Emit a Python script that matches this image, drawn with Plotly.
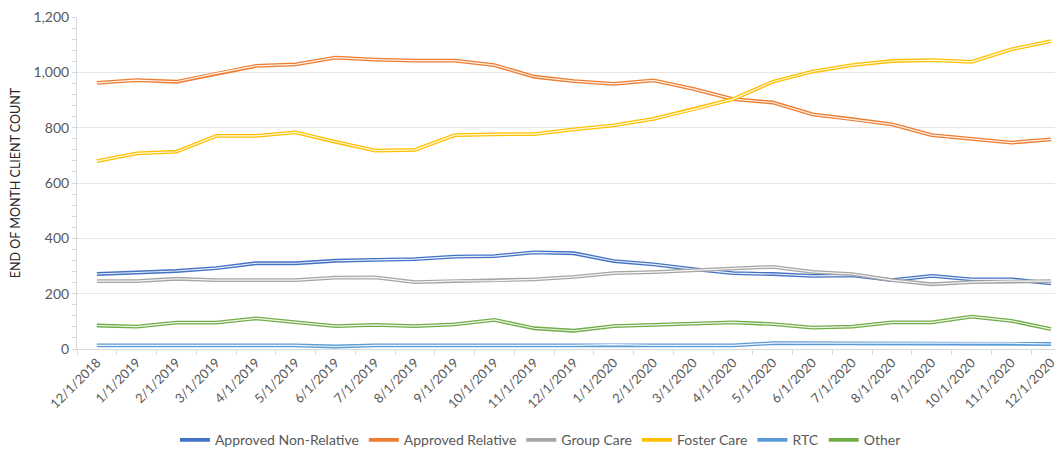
import plotly.graph_objects as go

# ---- data: end-of-month client counts, Dec 2018 .. Dec 2020 ----------------
months = ["12/1/2018", "1/1/2019", "2/1/2019", "3/1/2019", "4/1/2019", "5/1/2019",
          "6/1/2019", "7/1/2019", "8/1/2019", "9/1/2019", "10/1/2019", "11/1/2019",
          "12/1/2019", "1/1/2020", "2/1/2020", "3/1/2020", "4/1/2020", "5/1/2020",
          "6/1/2020", "7/1/2020", "8/1/2020", "9/1/2020", "10/1/2020", "11/1/2020",
          "12/1/2020"]

approved_non_relative = [271, 276, 282, 292, 310, 310, 319, 322, 325, 334, 336, 349,
                         346, 318, 306, 289, 274, 271, 264, 266, 249, 264, 252, 252, 237]
approved_relative = [962, 972, 966, 996, 1023, 1029, 1053, 1046, 1042, 1042, 1026, 984,
                     968, 958, 971, 940, 903, 891, 848, 831, 812, 773, 759, 746, 758]
group_care = [245, 245, 254, 249, 249, 249, 258, 259, 242, 246, 247, 252,
              261, 274, 278, 284, 290, 297, 279, 271, 249, 234, 242, 245, 245]
foster_care = [679, 707, 713, 770, 770, 783, 749, 717, 720, 773, 776, 777,
               794, 808, 832, 866, 903, 966, 1003, 1026, 1041, 1044, 1038, 1083, 1113]
rtc = [13, 13, 13, 13, 13, 13, 9, 13, 13, 13, 13, 13,
       13, 16, 13, 13, 13, 21, 21, 21, 21, 21, 21, 21, 18]
other = [85, 81, 95, 95, 111, 98, 83, 87, 83, 89, 105, 75,
         66, 83, 87, 91, 96, 90, 77, 81, 96, 96, 117, 102, 72]

# ---- office palette --------------------------------------------------------
SERIES = [
    ("Approved Non-Relative", approved_non_relative, "#4472C4"),
    ("Approved Relative", approved_relative, "#ED7D31"),
    ("Group Care", group_care, "#A5A5A5"),
    ("Foster Care", foster_care, "#FFC000"),
    ("RTC", rtc, "#5B9BD5"),
    ("Other", other, "#70AD47"),
]
TEXT = "#595959"
GRID = "#E6E6E6"
AXIS = "#D9D9D9"
FONT = "Lato, 'Open Sans', sans-serif"

fig = go.Figure()
for name, vals, color in SERIES:
    # excel "double" compound line: thick colour stroke with a thin white core
    fig.add_trace(go.Scatter(x=months, y=vals, name=name, mode="lines",
                             line=dict(color=color, width=3.8)))
    fig.add_trace(go.Scatter(x=months, y=vals, mode="lines", showlegend=False,
                             hoverinfo="skip",
                             line=dict(color="rgba(255,255,255,0.9)", width=1.2)))

# page body has an 8px margin, so the figure is sized/offset to compensate
fig.update_layout(
    width=1055, height=441,
    paper_bgcolor="white", plot_bgcolor="white",
    font=dict(family=FONT, color=TEXT, size=12),
    margin=dict(l=69, r=0, t=9, b=100),
    legend=dict(orientation="h", x=0.47, xanchor="center",
                yref="container", y=0.02, yanchor="middle",
                font=dict(size=14, color=TEXT), itemwidth=30,
                traceorder="normal"),
    xaxis=dict(type="category", range=[-0.5, 24.3], tickson="boundaries",
               ticks="outside", ticklen=5, tickcolor=AXIS,
               showline=True, linecolor=AXIS, linewidth=1,
               showgrid=False, tickangle=-45, tickfont=dict(size=13, color=TEXT)),
    yaxis=dict(range=[0, 1200], dtick=200, tickformat=",d",
               ticklabeloverflow="allow",
               showgrid=True, gridcolor=GRID, gridwidth=1,
               showline=True, linecolor=AXIS, linewidth=1,
               ticks="outside", ticklen=4, tickcolor=AXIS,
               minor=dict(dtick=40, ticks="outside", ticklen=4,
                          tickcolor=AXIS, showgrid=False),
               zeroline=False, tickfont=dict(size=14, color=TEXT),
               title=dict(text="END OF MONTH CLIENT COUNT", standoff=14,
                          font=dict(size=12.5, color="#262626"))),
)

fig.write_html("out.html")
